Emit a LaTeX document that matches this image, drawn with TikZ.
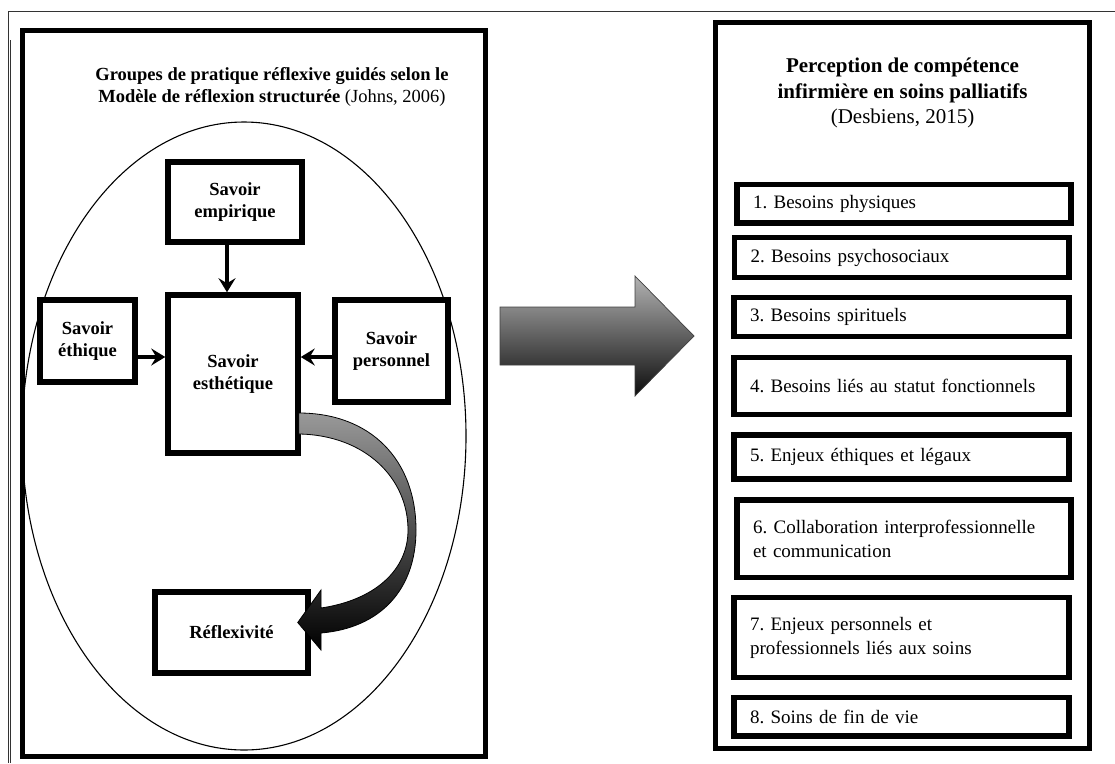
\documentclass[tikz,border=0pt]{standalone}
\usepackage{fontspec}
\setmainfont{Liberation Serif}
\usetikzlibrary{arrows.meta,calc}
\frenchspacing
\begin{document}
\begin{tikzpicture}[x=1pt,y=-1pt,
  panel/.style={draw=black,line width=5pt},
  sbox/.style={draw=black,line width=5.5pt,fill=white,align=center,inner sep=0pt,
    font=\fontsize{18.5}{22}\selectfont\bfseries},
  itemnode/.style={draw=black,line width=5.5pt,fill=white,align=left,inner xsep=16pt,inner ysep=0pt,
    font=\fontsize{19}{24}\selectfont},
  arr/.style={line width=3.8pt,-{Stealth[length=14pt,width=17pt,inset=5pt]}},
  frameline/.style={line width=0.9pt,black!80}
]
\useasboundingbox (0,0) rectangle (1115,763);
% outer frame
\draw[frameline] (8.3,763) -- (8.3,11) -- (1115,11);
\draw[frameline] (10.7,763) -- (10.7,40);

% panels
\node[panel,minimum width=463,minimum height=726] (leftpanel) at (253.5,393) {};
\node[panel,minimum width=374,minimum height=726] (rightpanel) at (902.5,385.5) {};

% left title
\node[align=center,inner sep=0pt,font=\fontsize{18.5}{22}\selectfont] (lefttitle) at (272,87)
  {\textbf{Groupes de pratique réflexive guidés selon le}\\\textbf{Modèle de réflexion structurée} (Johns, 2006)};

% ellipse
\draw[line width=1.1pt] (244,436) ellipse [x radius=222, y radius=314];

% boxes
\node[sbox,minimum width=134,minimum height=80] (emp) at (235,202) {Savoir\\empirique};
\node[sbox,minimum width=130,minimum height=158] (esth) at (233,374) {Savoir\\esthétique};
\node[sbox,minimum width=95,minimum height=82] (eth) at (87.5,341) {Savoir\\éthique};
\node[sbox,minimum width=113,minimum height=102] (pers) at (391.5,351) {Savoir\\personnel};
\node[sbox,minimum width=153,minimum height=81] (refl) at (231.5,632.5) {Réflexivité};

% straight arrows
\coordinate (ax) at (227,0);
\coordinate (ay) at (0,357);
\draw[arr] (emp.south -| ax) -- (esth.north -| ax);
\draw[arr] (eth.east |- ay) -- (esth.west |- ay);
\draw[arr] (pers.west |- ay) -- (esth.east |- ay);

% curved ribbon arrow from esth to refl
\coordinate (cstart) at ($(esth.east)+(-2,39)$);
\coordinate (ctip) at ($(refl.east)+(-13,-10)$);
\shade[top color=black!40,bottom color=black,draw=black,line width=0.8pt]
  (cstart) .. controls +(72,0) and (416,460) .. (416,530)
  .. controls (416,590) and (380,628) .. (321,633)
  -- (321,650) -- (ctip) -- (321,590) -- (321,608)
  .. controls (375,600) and (408,570) .. (408,530)
  .. controls (408,478) and (365,435) .. ($(cstart)+(0,21)$) -- cycle;

% big arrow
\shade[top color=black!30,bottom color=black!95,draw=black!75,line width=0.7pt]
  (500,307) -- (635,307) -- (635,276) -- (694,336) -- (635,396) -- (635,365) -- (500,365) -- cycle;

% right title
\node[align=center,inner sep=0pt,font=\fontsize{21}{25.5}\selectfont] (righttitle) at (902.5,93)
  {\textbf{Perception de compétence}\\\textbf{infirmière en soins palliatifs}\\(Desbiens, 2015)};

% items
\node[itemnode,minimum width=334,minimum height=38.5,text width=302] (i1) at (904,203.75) {1. Besoins physiques};
\node[itemnode,minimum width=334.5,minimum height=40,text width=302.5] (i2) at (901.75,257.5) {2. Besoins psychosociaux};
\node[itemnode,minimum width=335,minimum height=39,text width=303] (i3) at (901.5,317) {3. Besoins spirituels};
\node[itemnode,minimum width=335,minimum height=57,text width=303] (i4) at (901.5,386) {4. Besoins liés au statut fonctionnels};
\node[itemnode,minimum width=335,minimum height=44,text width=303] (i5) at (901.5,457) {5. Enjeux éthiques et légaux};
\node[itemnode,minimum width=334,minimum height=77.5,text width=302] (i6) at (904,538.75) {6. Collaboration interprofessionnelle\\et communication};
\node[itemnode,minimum width=335,minimum height=80,text width=303] (i7) at (901.5,637.5) {7. Enjeux personnels et\\professionnels liés aux soins};
\node[itemnode,minimum width=335,minimum height=38.5,text width=303] (i8) at (901.5,716.75) {8. Soins de fin de vie};
\end{tikzpicture}
\end{document}
